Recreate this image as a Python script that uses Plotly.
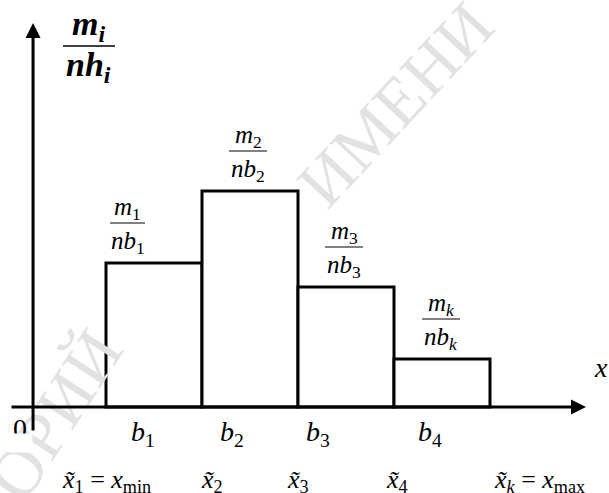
import plotly.graph_objects as go

# ---------------- data ----------------
bin_edges = [1, 2, 3, 4, 5]
densities = [3.0, 4.5, 2.5, 1.0]
numerators = ["<i>m</i><sub>1</sub>", "<i>m</i><sub>2</sub>", "<i>m</i><sub>3</sub>", "<i>m<sub>k</sub></i>"]
denominators = ["<i>nb</i><sub>1</sub>", "<i>nb</i><sub>2</sub>", "<i>nb</i><sub>3</sub>", "<i>nb<sub>k</sub></i>"]
width_labels = ["<i>b</i><sub>1</sub>", "<i>b</i><sub>2</sub>", "<i>b</i><sub>3</sub>", "<i>b</i><sub>4</sub>"]
edge_labels = [
    "<i>x\u0303</i><sub>1</sub> = <i>x</i><sub>min</sub>",
    "<i>x\u0303</i><sub>2</sub>",
    "<i>x\u0303</i><sub>3</sub>",
    "<i>x\u0303</i><sub>4</sub>",
    "<i>x\u0303<sub>k</sub></i> = <i>x</i><sub>max</sub>",
]

# ---------------- layout constants ----------------
W, H = 609, 493
PX_X, PX_Y = 96.0, 48.0          # pixels per data unit
X0 = 1 - 106 / PX_X
Y0 = -86 / PX_Y
FONT = "Liberation Serif"
AXIS_X_ORIGIN = 0.24

centers = [(a + b) / 2 for a, b in zip(bin_edges[:-1], bin_edges[1:])]
widths = [b - a for a, b in zip(bin_edges[:-1], bin_edges[1:])]

fig = go.Figure()
fig.add_trace(go.Bar(
    x=centers, y=densities, width=widths,
    marker=dict(color="white", line=dict(color="black", width=3)),
    hoverinfo="skip", showlegend=False,
))

ann = []
shapes = []

def px(x, y):
    return dict(xref="paper", yref="paper", x=x / W, y=1 - y / H)

# watermark (light, diagonal)
ann.append(dict(**px(55, 415), text="ОРИЙ", showarrow=False, textangle=-57,
                xanchor="center", yanchor="middle",
                font=dict(family=FONT, size=68, color="#e2e2e2")))
ann.append(dict(**px(395, 105), text="ИМЕНИ", showarrow=False, textangle=-47,
                xanchor="center", yanchor="middle",
                font=dict(family=FONT, size=68, color="#e2e2e2")))

# axes with arrows
ann.append(dict(x=6.0, y=0, ax=0.0, ay=0, xref="x", yref="y", axref="x", ayref="y",
                text="", showarrow=True, arrowhead=2, arrowsize=1, arrowwidth=3,
                arrowcolor="black"))
ann.append(dict(x=AXIS_X_ORIGIN, y=8.0, ax=AXIS_X_ORIGIN, ay=-0.52, xref="x", yref="y",
                axref="x", ayref="y", text="", showarrow=True, arrowhead=2, arrowsize=1,
                arrowwidth=3, arrowcolor="black"))

# fraction labels above bars
frac_dx = [-26.5, -2, -2, -1]
frac_len = [35, 38, 38, 38]
for c, h, num, den, dx, ln in zip(centers, densities, numerators, denominators, frac_dx, frac_len):
    shapes.append(dict(type="line", xref="x", yref="y", xsizemode="pixel", ysizemode="pixel",
                       xanchor=c, yanchor=h, x0=dx - ln / 2, x1=dx + ln / 2, y0=40, y1=40,
                       line=dict(color="black", width=1)))
    ann.append(dict(x=c, y=h, xref="x", yref="y", text=num, showarrow=False,
                    xshift=dx, yshift=55, xanchor="center", yanchor="middle",
                    font=dict(family=FONT, size=25, color="black")))
    ann.append(dict(x=c, y=h, xref="x", yref="y", text=den, showarrow=False,
                    xshift=dx, yshift=21, xanchor="center", yanchor="middle",
                    font=dict(family=FONT, size=25, color="black")))

# b labels
b_dx = [-11, -18, -28, -12]
for c, t, dx in zip(centers, width_labels, b_dx):
    ann.append(dict(x=c, y=0, xref="x", yref="y", text=t, showarrow=False,
                    xshift=dx, yshift=-26, xanchor="center", yanchor="middle",
                    font=dict(family=FONT, size=28, color="black")))

# edge labels
e_dx = [-46, 10, 0, 3, 2]
e_anchor = ["left", "center", "center", "center", "left"]
for e, t, dx, xa in zip(bin_edges, edge_labels, e_dx, e_anchor):
    ann.append(dict(x=e, y=0, xref="x", yref="y", text=t, showarrow=False,
                    xshift=dx, yshift=-74, yanchor="middle", xanchor=xa,
                    font=dict(family=FONT, size=26, color="black")))

# y-axis title fraction
shapes.append(dict(type="line", xref="paper", yref="paper", x0=63 / W, x1=115 / W,
                   y0=1 - 46 / H, y1=1 - 46 / H, line=dict(color="black", width=1.5)))
ann.append(dict(**px(89, 26), text="<b><i>m<sub>i</sub></i></b>", showarrow=False,
                xanchor="center", yanchor="middle",
                font=dict(family=FONT, size=34, color="black")))
ann.append(dict(**px(89, 67), text="<b><i>nh<sub>i</sub></i></b>", showarrow=False,
                xanchor="center", yanchor="middle",
                font=dict(family=FONT, size=34, color="black")))

# x axis name
ann.append(dict(**px(601, 367), text="<i>x</i>", showarrow=False,
                xanchor="center", yanchor="middle",
                font=dict(family=FONT, size=28, color="black")))
# origin label (bottom clipped in the original)
ann.append(dict(**px(20, 428), text="0", showarrow=False, xanchor="center", yanchor="middle",
                font=dict(family=FONT, size=28, color="black")))
ann.append(dict(**px(20, 433), text=" ", showarrow=False, xanchor="center", yanchor="top",
                bgcolor="white", width=22, height=16,
                font=dict(family=FONT, size=10, color="white")))

fig.update_layout(
    width=W, height=H,
    margin=dict(l=0, r=0, t=0, b=0),
    paper_bgcolor="white", plot_bgcolor="white",
    xaxis=dict(range=[X0, X0 + W / PX_X], visible=False, fixedrange=True),
    yaxis=dict(range=[Y0, Y0 + H / PX_Y], visible=False, fixedrange=True),
    annotations=ann, shapes=shapes, showlegend=False,
)

fig.write_html("out.html", config={"displayModeBar": False},
               post_script="document.body.style.margin='0';")
